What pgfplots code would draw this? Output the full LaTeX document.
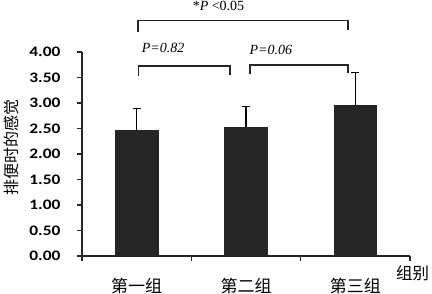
\documentclass[border=0pt]{standalone}
\usepackage{fontspec}
\setmainfont{Liberation Serif}
\newfontfamily\tickfont[FakeStretch=1.2]{Carlito}
\newfontfamily\cjk{Noto Sans CJK SC}
\usepackage{pgfplots}
\pgfplotsset{compat=1.18}
\definecolor{barfill}{RGB}{38,38,38}

\begin{document}
\begin{tikzpicture}[x=1bp,y=1bp]
\useasboundingbox (0,0) rectangle (432,294);
\begin{axis}[
  at={(82bp,38bp)}, anchor=south west,
  scale only axis, width=328bp, height=204bp,
  xmin=0, xmax=3, ymin=0, ymax=4,
  clip=false,
  axis x line=bottom, axis y line=left,
  axis line style={-, line width=1.1pt, black!85},
  tick align=outside, major tick length=5bp,
  tick style={line width=1.1pt, black!85},
  xtick={0,1,2,3}, xticklabels={,,,},
  extra x ticks={0.5,1.5,2.5},
  extra x tick labels={第一组,第二组,第三组},
  extra x tick style={major tick length=0pt,
    xticklabel style={font=\cjk\fontsize{17bp}{20bp}\selectfont, yshift=-19bp}},
  ytick={0,0.5,...,4},
  yticklabel style={font=\tickfont\bfseries\fontsize{14.5bp}{16bp}\selectfont,
    xshift=-13bp,
    /pgf/number format/fixed, /pgf/number format/fixed zerofill,
    /pgf/number format/precision=2, /pgf/number format/assume math mode=true},
  ylabel={排便时的感觉},
  ylabel style={font=\cjk\fontsize{16bp}{18bp}\selectfont,
    at={(axis description cs:-0.2165,0.534)}, anchor=center},
  xlabel={组别},
  xlabel style={font=\cjk\fontsize{16.5bp}{20bp}\selectfont, inner sep=0pt,
    at={(axis description cs:1.008,-0.085)}, anchor=center},
]
\addplot[ybar, bar width=0.39, fill=barfill, draw=barfill,
  error bars/.cd, y dir=plus, y explicit,
  error bar style={line width=1.1pt, black},
  error mark options={rotate=90, mark size=4bp, line width=1.1pt, black}]
  coordinates {(0.5,2.47) +- (0,0.43) (1.5,2.52) +- (0,0.42) (2.5,2.96) +- (0,0.63)};
\end{axis}
% comparison brackets
\draw[line width=1.1pt, black!85] (138,262.3) -- (138,273.3) -- (348,273.3) -- (348,264);
\draw[line width=1.1pt, black!85] (138.3,218) -- (138.3,228) -- (230,228) -- (230,219);
\draw[line width=1.1pt, black!85] (250,220) -- (250,229) -- (348,229) -- (348,221);
\node[font=\fontsize{14bp}{15bp}\selectfont, inner sep=0pt] at (218.5,288) {*\textit{P} <0.05};
\node[font=\fontsize{14bp}{15bp}\selectfont\itshape, inner sep=0pt, anchor=west] at (141.7,246) {P=0.82};
\node[font=\fontsize{14bp}{15bp}\selectfont\itshape, inner sep=0pt, anchor=west] at (249.3,244) {P=0.06};
\end{tikzpicture}
\end{document}
